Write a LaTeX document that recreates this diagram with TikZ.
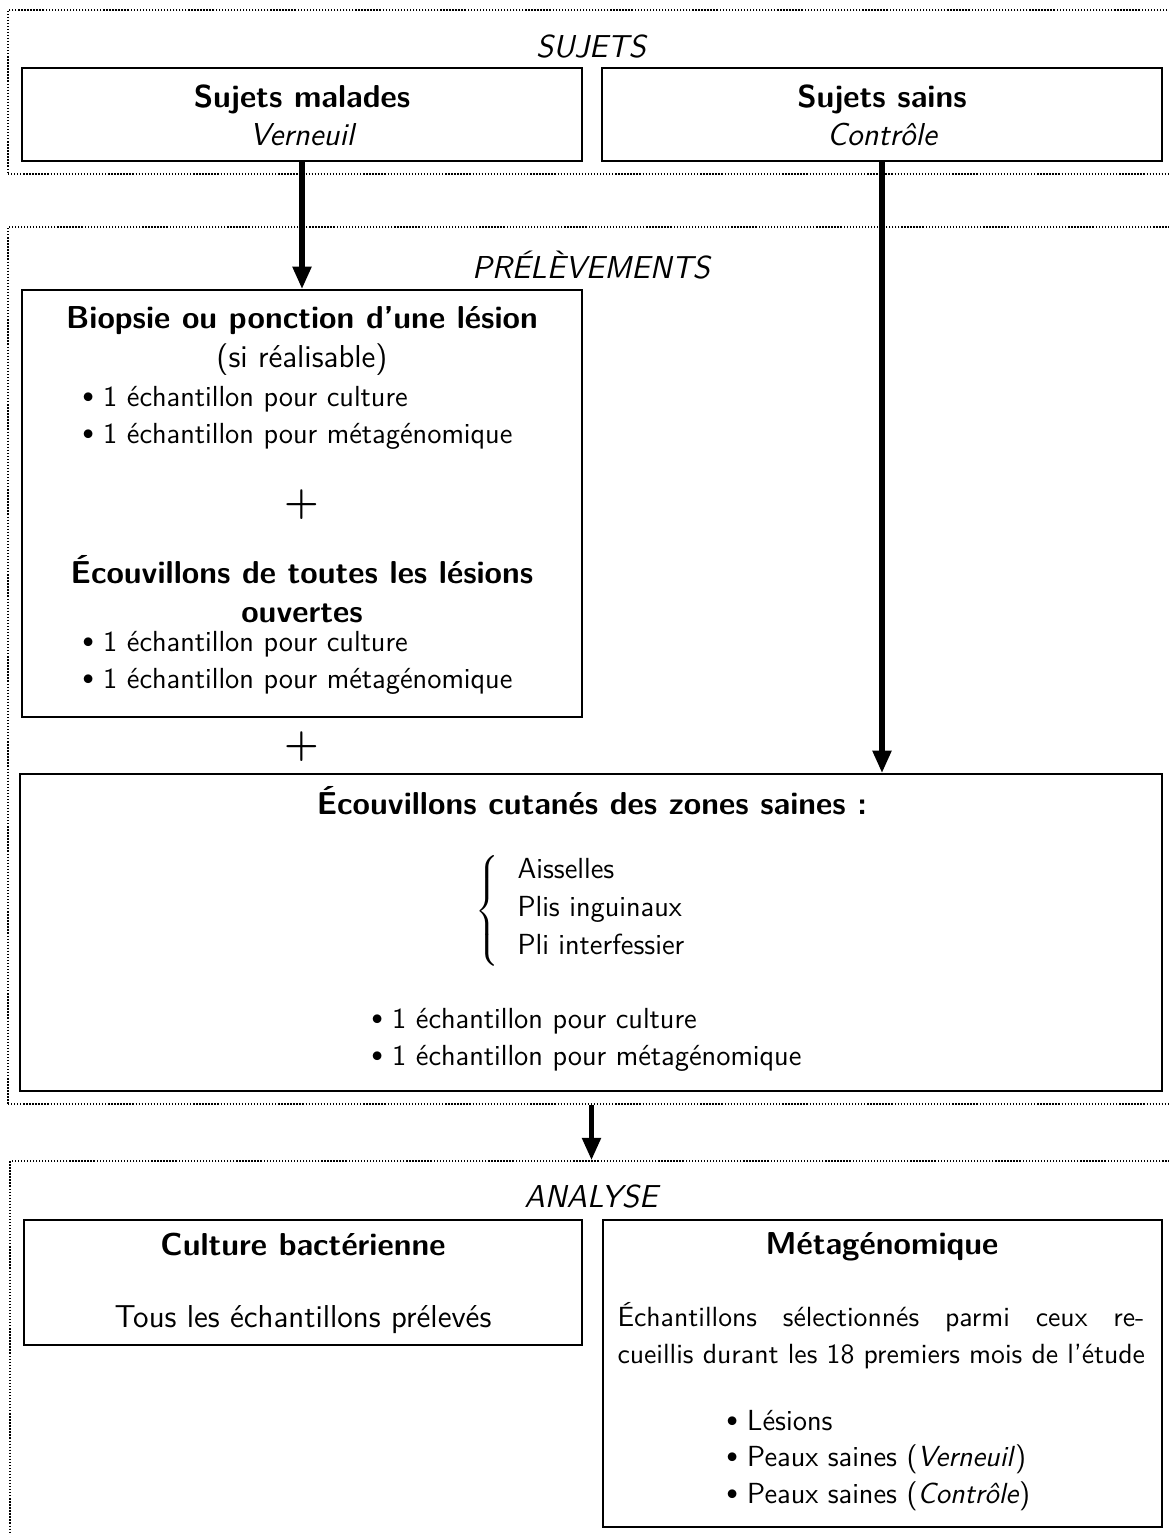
\documentclass[tikz,border=0pt]{standalone}
\usetikzlibrary{arrows.meta,fit}
\renewcommand{\familydefault}{\sfdefault}
\newcommand{\bul}{\raisebox{1.2pt}{\fontsize{8}{8}\selectfont$\bullet$}\ }
\begin{document}
\begin{tikzpicture}[x=0.37879pt,y=-0.37879pt,
  box/.style={draw, line width=0.7pt, inner sep=0pt},
  frame/.style={draw, dash pattern=on 0.5pt off 0.65pt, line width=0.55pt, inner sep=0pt},
  lbl/.style={font=\fontsize{12}{14}\selectfont\itshape, anchor=base, inner sep=0pt},
  ttl/.style={font=\fontsize{12}{14}\selectfont\bfseries, anchor=base, inner sep=0pt},
  txt/.style={font=\fontsize{12}{14}\selectfont, anchor=base, inner sep=0pt},
  itm/.style={font=\fontsize{11}{13.6}\selectfont, anchor=base west, inner sep=0pt},
  par/.style={font=\fontsize{10.5}{12.6}\selectfont, anchor=base west, inner sep=0pt},
  plus/.style={font=\fontsize{15}{16}\selectfont\rmfamily\bfseries, inner sep=0pt},
  flow/.style={line width=2pt, -{Triangle[length=8.5pt,width=6.8pt]}}]
\useasboundingbox (0,0) rectangle (1169,1533);
\fill[white] (0,0) rectangle (1169,1533);

% frames
\node[frame, fit={(8,10) (1175,174)}] (fsuj) {};
\node[frame, fit={(8,227) (1175,1104)}] (fpre) {};
\node[frame, fit={(10,1161) (1175,1545)}] (fana) {};
\node[lbl] (lsuj) at (591,57) {SUJETS};
\node[lbl] (lpre) at (591,278) {PRÉLÈVEMENTS};
\node[lbl] (lana) at (591,1207) {ANALYSE};

% SUJETS
\node[box, fit={(22,68) (582,161)}] (mal) {};
\node[ttl] (malt) at (302,107) {Sujets malades};
\node[txt] (mals) at (302,145) {\itshape Verneuil};
\node[box, fit={(602,68) (1162,161)}] (sain) {};
\node[ttl] (saint) at (882,107) {Sujets sains};
\node[txt] (sains) at (882,145) {\itshape Contrôle};

% PRELEVEMENTS
\node[box, fit={(22,290) (582,717)}] (bio) {};
\node[ttl] (biot) at (302,328) {Biopsie ou ponction d’une lésion};
\node[txt] (bios) at (302,367) {(si réalisable)};
\node[itm] (bioa) at (82,406) {\bul 1 échantillon pour culture};
\node[itm] (biob) at (82,443) {\bul 1 échantillon pour métagénomique};
\node[plus] (plusa) at (302,505) {+};
\node[ttl] (ecot) at (302,583) {Écouvillons de toutes les lésions};
\node[ttl] (ecou) at (302,622) {ouvertes};
\node[itm] (ecoa) at (82,651) {\bul 1 échantillon pour culture};
\node[itm] (ecob) at (82,688) {\bul 1 échantillon pour métagénomique};
\node[plus] (plusb) at (302,747) {+};

\node[box, fit={(20,774) (1162,1091)}] (cut) {};
\node[ttl] (cutt) at (592,814) {Écouvillons cutanés des zones saines :};
\node[inner sep=0pt, anchor=east, font=\fontsize{11}{13.6}\selectfont] (brace) at (499,911)
  {$\left\{\vrule height 24.75pt depth 19.25pt width 0pt\right.\nulldelimiterspace=0pt$};
\node[itm] (zona) at (517,878) {Aisselles};
\node[itm] (zonb) at (517,916) {Plis inguinaux};
\node[itm] (zonc) at (517,954) {Pli interfessier};
\node[itm] (cuta) at (371,1028) {\bul 1 échantillon pour culture};
\node[itm] (cutb) at (371,1065) {\bul 1 échantillon pour métagénomique};

% ANALYSE
\node[box, fit={(24,1220) (582,1345)}] (cul) {};
\node[ttl] (cult) at (303,1255) {Culture bactérienne};
\node[txt] (culs) at (303,1327) {Tous les échantillons prélevés};
\node[box, fit={(603,1220) (1162,1527)}] (meta) {};
\node[ttl] (metat) at (882,1254) {Métagénomique};
\node[par] (metaa) at (617,1326) {\makebox[199.6pt][s]{Échantillons sélectionnés parmi ceux re-}};
\node[par] (metab) at (617,1363) {cueillis durant les 18 premiers mois de l’étude};
\node[itm] (metc) at (726,1430) {\bul Lésions};
\node[itm] (metd) at (726,1466) {\bul Peaux saines (\textit{Verneuil})};
\node[itm] (mete) at (726,1503) {\bul Peaux saines (\textit{Contrôle})};

% connectors
\draw[flow] (mal.south) -- (bio.north);
\draw[flow] (sain.south) -- (sain.south |- cut.north);
\draw[flow] (fpre.south) -- (fpre.south |- fana.north);
\end{tikzpicture}
\end{document}
